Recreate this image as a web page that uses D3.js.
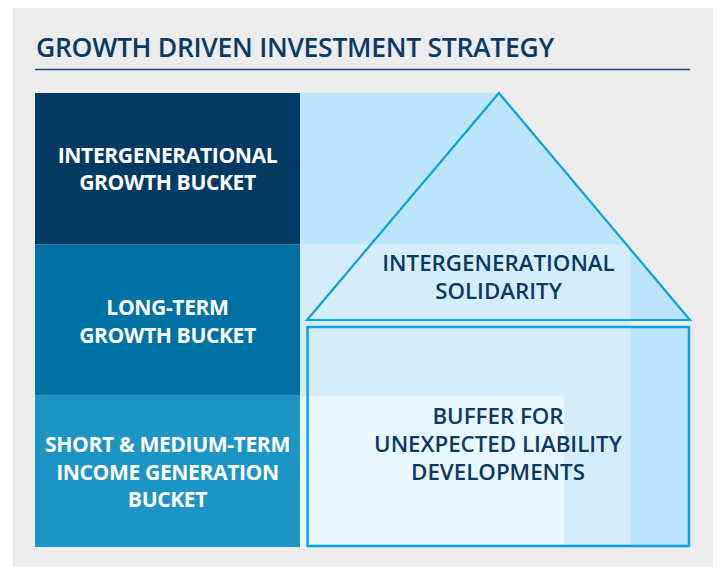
<!DOCTYPE html>
<html>
<head>
<meta charset="utf-8">
<script src="https://cdn.jsdelivr.net/npm/d3@7"></script>
<style>
  body { margin: 0; background: #fff; }
  svg { display: block; }
</style>
</head>
<body>
<div id="chart"></div>
<script>
// chart text, kept up top
let title = "GROWTH DRIVEN INVESTMENT STRATEGY";
let buckets = ["intergen", "longterm", "short"];
let bucketLabels = [
    ["INTERGENERATIONAL", "GROWTH BUCKET"],
    ["LONG-TERM", "GROWTH BUCKET"],
    ["SHORT & MEDIUM-TERM", "INCOME GENERATION", "BUCKET"]
];
let bucketColors = ["#023a63", "#0071a2", "#1c95c5"];
let roofLabel = ["INTERGENERATIONAL", "SOLIDARITY"];
let wallLabel = ["BUFFER FOR", "UNEXPECTED LIABILITY", "DEVELOPMENTS"];

let svgWidth = 720;
let svgHeight = 567;

let svg = d3.select("#chart")
    .append("svg")
    .attr("width", svgWidth)
    .attr("height", svgHeight);

// grey panel
svg.append("rect")
    .attr("x", 13)
    .attr("y", 8)
    .attr("width", 700)
    .attr("height", 559)
    .attr("fill", "#ececec");

// scales for the rows and the house area
let y = d3.scaleBand()
    .domain(buckets)
    .range([93, 547]);

let x = d3.scaleLinear()
    .domain([0, 100])
    .range([300, 690]);

let navy = "#0b3a65";
let blue = "#0aa3e2";

// fit a text block so its widest line is a given width
function fitText(sel, target) {
    let widest = 0;
    sel.each(function () {
        widest = Math.max(widest, this.getComputedTextLength());
    });
    let size = parseFloat(sel.attr("font-size"));
    sel.attr("font-size", size * target / widest);
}

// title
let titleText = svg.append("text")
    .attr("x", 36)
    .attr("y", 57)
    .attr("font-family", "'Open Sans', sans-serif")
    .attr("font-weight", 600)
    .attr("font-size", 22)
    .attr("letter-spacing", -0.3)
    .attr("fill", navy)
    .text(title);
fitText(titleText, 516);

svg.append("line")
    .attr("x1", 35)
    .attr("x2", 690)
    .attr("y1", 69.5)
    .attr("y2", 69.5)
    .attr("stroke", "#174a78")
    .attr("stroke-width", 1.5);

let house = svg.append("g");

let apex = [x(51), y("intergen")];
let roofBase = 320;
let wallTop = 327;
let roofPath = `M${x(1.8)},${roofBase} L${apex[0]},${apex[1]} L${x(100)},${roofBase} Z`;

// house fill
house.append("path")
    .attr("d", roofPath)
    .attr("fill", "#bde5f9");

house.append("rect")
    .attr("x", x(1.8))
    .attr("y", wallTop)
    .attr("width", x(100) - x(1.8))
    .attr("height", y.range()[1] - wallTop)
    .attr("fill", "#bde5f9");

// light band per row (stair shape)
house.append("rect")
    .attr("x", x(0))
    .attr("y", y("intergen"))
    .attr("width", x(51) - x(0))
    .attr("height", y.bandwidth())
    .attr("fill", "#bde5f9");

house.append("rect")
    .attr("x", x(0))
    .attr("y", y("longterm"))
    .attr("width", x(84.6) - x(0))
    .attr("height", y.bandwidth() * 2)
    .attr("fill", "#d5edfb");

house.append("rect")
    .attr("x", x(0))
    .attr("y", y("short"))
    .attr("width", x(67.7) - x(0))
    .attr("height", y.bandwidth())
    .attr("fill", "#e9f6fd");

// outlines
house.append("path")
    .attr("d", roofPath)
    .attr("fill", "none")
    .attr("stroke", blue)
    .attr("stroke-width", 2.2)
    .attr("stroke-linejoin", "miter");

house.append("rect")
    .attr("x", x(1.8) + 0.5)
    .attr("y", wallTop)
    .attr("width", x(100) - x(1.8) - 1.5)
    .attr("height", y.range()[1] - wallTop - 1)
    .attr("fill", "none")
    .attr("stroke", blue)
    .attr("stroke-width", 2.5);

// left bucket column
let bucketGroup = svg.selectAll(".bucket")
    .data(buckets)
    .enter()
    .append("g")
    .classed("bucket", true);

bucketGroup.append("rect")
    .attr("x", 35)
    .attr("y", d => y(d))
    .attr("width", 265)
    .attr("height", y.bandwidth())
    .attr("fill", (d, i) => bucketColors[i]);

let firstBaseline = [162.5, 315, 452];
let bucketText = bucketGroup.selectAll("text")
    .data((d, i) => bucketLabels[i].map(t => ({ t: t, i: i })))
    .enter()
    .append("text")
    .attr("x", 167.5)
    .attr("y", (d, j) => firstBaseline[d.i] + j * 27.6)
    .attr("text-anchor", "middle")
    .attr("font-family", "'Open Sans', sans-serif")
    .attr("font-weight", 700)
    .attr("font-size", 19)
    .attr("letter-spacing", -0.4)
    .attr("fill", "#fff")
    .text(d => d.t);
fitText(bucketText, 244);

// labels in the house
let houseText = svg.append("g")
    .attr("font-family", "'Open Sans', sans-serif")
    .attr("font-weight", 600)
    .attr("fill", navy)
    .attr("text-anchor", "middle");

houseText.selectAll(".roof")
    .data(roofLabel)
    .enter()
    .append("text")
    .classed("roof", true)
    .attr("x", 498.5)
    .attr("y", (d, i) => 270.7 + i * 28.3)
    .attr("font-size", 20)
    .text(d => d);

houseText.selectAll(".wall")
    .data(wallLabel)
    .enter()
    .append("text")
    .classed("wall", true)
    .attr("x", 498)
    .attr("y", (d, i) => 424 + i * 28)
    .attr("font-size", 20)
    .text(d => d);

fitText(houseText.selectAll("text"), 248);
</script>
</body>
</html>
